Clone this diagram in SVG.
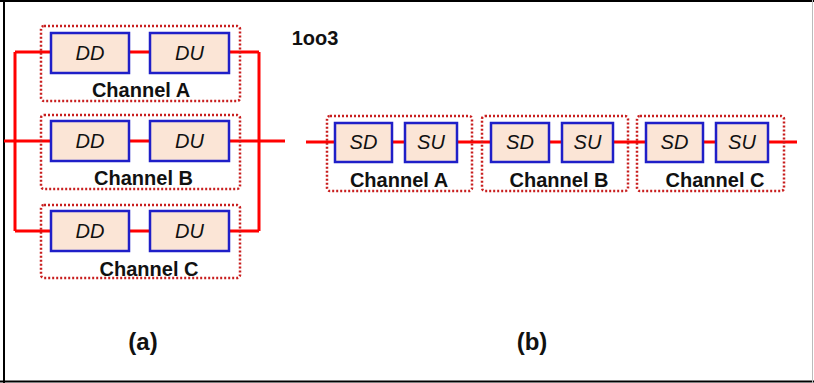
<svg xmlns="http://www.w3.org/2000/svg" width="814" height="383" viewBox="0 0 814 383">
<style>
.frame{stroke:#000;stroke-width:2;fill:none}
.wire{stroke:#FF0000;stroke-width:3;fill:none}
.chan{fill:none;stroke:#C81E1E;stroke-width:2.5;stroke-dasharray:2 2}
.blk{fill:#FBE5D6;stroke:#1F1FC8;stroke-width:2.5}
.bt{font-family:"Liberation Sans",Arial,sans-serif;font-style:italic;font-size:20px;fill:#111;text-anchor:middle}
.lbl{font-family:"Liberation Sans",Arial,sans-serif;font-weight:bold;font-size:20px;fill:#111;text-anchor:middle}
.cap{font-family:"Liberation Sans",Arial,sans-serif;font-weight:bold;font-size:24px;fill:#111;text-anchor:middle}
</style>
<rect x="0" y="0" width="814" height="383" fill="#fff"/>
<g id="frame">
<line class="frame" x1="4" y1="0" x2="4" y2="383"/>
<line class="frame" x1="0" y1="1" x2="814" y2="1"/>
<line class="frame" x1="0" y1="381.5" x2="814" y2="381.5" stroke="#222"/>
<line x1="812.5" y1="0" x2="812.5" y2="383" stroke="#BBB" stroke-width="1"/>
</g>
<g id="connectors">
<path class="wire" d="M15 52 H259 M15 231 H259 M15 52 V231 M259 52 V231 M4 141 H285"/>
<path class="wire" d="M306 142 H797"/>
</g>
<g id="a-channel-A">
<rect class="chan" x="41" y="26" width="199" height="75" rx="3"/>
<rect class="blk" x="51" y="33" width="78" height="40"/>
<text class="bt" x="90" y="60">DD</text>
<rect class="blk" x="150" y="33" width="79" height="40"/>
<text class="bt" x="189.5" y="60">DU</text>
<text class="lbl" x="141" y="97">Channel A</text>
</g>
<g id="a-channel-B">
<rect class="chan" x="41" y="115" width="199" height="74" rx="3"/>
<rect class="blk" x="51" y="121" width="78" height="40"/>
<text class="bt" x="90" y="148">DD</text>
<rect class="blk" x="150" y="121" width="79" height="40"/>
<text class="bt" x="189.5" y="148">DU</text>
<text class="lbl" x="143.5" y="185">Channel B</text>
</g>
<g id="a-channel-C">
<rect class="chan" x="41" y="205" width="199" height="73" rx="3"/>
<rect class="blk" x="51" y="211" width="78" height="40"/>
<text class="bt" x="90" y="238">DD</text>
<rect class="blk" x="150" y="211" width="79" height="40"/>
<text class="bt" x="189.5" y="238">DU</text>
<text class="lbl" x="149" y="276">Channel C</text>
</g>
<g id="b-channel-A">
<rect class="chan" x="327" y="116" width="145" height="75" rx="3"/>
<rect class="blk" x="335" y="123" width="57" height="39"/>
<text class="bt" x="363.5" y="149">SD</text>
<rect class="blk" x="405" y="123" width="52" height="39"/>
<text class="bt" x="431" y="149">SU</text>
<text class="lbl" x="399" y="187">Channel A</text>
</g>
<g id="b-channel-B">
<rect class="chan" x="482" y="116" width="146" height="75" rx="3"/>
<rect class="blk" x="491" y="123" width="58" height="39"/>
<text class="bt" x="520" y="149">SD</text>
<rect class="blk" x="562" y="123" width="51" height="39"/>
<text class="bt" x="587.5" y="149">SU</text>
<text class="lbl" x="559" y="187">Channel B</text>
</g>
<g id="b-channel-C">
<rect class="chan" x="637" y="116" width="147" height="75" rx="3"/>
<rect class="blk" x="646" y="123" width="57" height="39"/>
<text class="bt" x="674.5" y="149">SD</text>
<rect class="blk" x="716" y="123" width="52" height="39"/>
<text class="bt" x="742" y="149">SU</text>
<text class="lbl" x="715" y="187">Channel C</text>
</g>
<g id="labels">
<text class="lbl" x="315" y="45" font-size="22">1oo3</text>
<text class="cap" x="143" y="350">(a)</text>
<text class="cap" x="532" y="350">(b)</text>
</g>
</svg>
